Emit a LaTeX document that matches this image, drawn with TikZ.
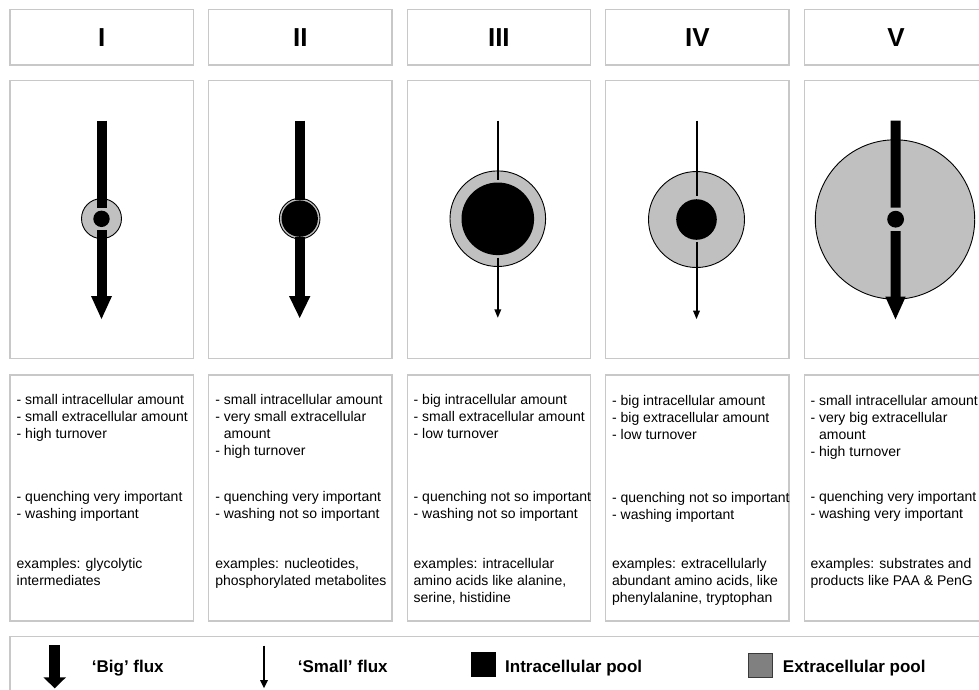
\documentclass[tikz,border=0pt]{standalone}
\usepackage{fontspec}
\setmainfont{Liberation Sans}
\definecolor{framegray}{HTML}{C8C8C8}
\definecolor{poolgray}{HTML}{C0C0C0}
\definecolor{keygray}{HTML}{808080}
\definecolor{keyedge}{HTML}{3A3A3A}
\tikzset{
  box/.style={draw=framegray, line width=1.3pt, minimum width=183.3pt, inner sep=0pt, outer sep=0pt, anchor=north west},
  numeral/.style={font=\fontsize{26}{30}\selectfont\bfseries},
  % multi-line notes are placed by the baseline of their last line
  note/.style={font=\fontsize{14}{17}\selectfont, align=left, anchor=base west, inner sep=0pt},
  keytext/.style={font=\fontsize{17}{20}\selectfont\bfseries, anchor=base west, inner sep=0pt},
  extrapool/.style={circle, fill=poolgray, draw=black, line width=0.9pt, inner sep=0pt},
  intrapool/.style={circle, fill=black, inner sep=0pt},
  bigflux/.style={line width=10pt, draw=black},
  smallflux/.style={line width=2pt, draw=black},
}
\begin{document}
\begin{tikzpicture}[x=1pt,y=-1pt]
\useasboundingbox (0,0) rectangle (979,689);
\clip (0,0) rectangle (979,689);

% ---- header boxes with the case numerals
\node[box, numeral, minimum height=55.7pt] (hdrI)   at (10,9.3)    {I};
\node[box, numeral, minimum height=55.7pt] (hdrII)  at (208.6,9.3) {II};
\node[box, numeral, minimum height=55.7pt] (hdrIII) at (407.2,9.3) {III};
\node[box, numeral, minimum height=55.7pt] (hdrIV)  at (605.8,9.3) {IV};
\node[box, numeral, minimum height=55.7pt] (hdrV)   at (804.4,9.3) {V};

% ---- picture boxes
\node[box, minimum height=278pt] (picI)   at (10,80.7)    {};
\node[box, minimum height=278pt] (picII)  at (208.6,80.7) {};
\node[box, minimum height=278pt] (picIII) at (407.2,80.7) {};
\node[box, minimum height=278pt] (picIV)  at (605.8,80.7) {};
\node[box, minimum height=278pt] (picV)   at (804.4,80.7) {};

% ---- text boxes
\node[box, minimum height=246pt] (txtI)   at (10,375)    {};
\node[box, minimum height=246pt] (txtII)  at (208.6,375) {};
\node[box, minimum height=246pt] (txtIII) at (407.2,375) {};
\node[box, minimum height=246pt] (txtIV)  at (605.8,375) {};
\node[box, minimum height=246pt] (txtV)   at (804.4,375) {};

% ---- legend box
\node[box, minimum width=1000pt, minimum height=100pt] (legend) at (10,636.7) {};

% ---- case I: small pools, big flux
\coordinate (topI) at (101.5,120.7);
\coordinate (tipI) at (101.5,319);
\coordinate (baseI) at (101.5,297);
\node[extrapool, minimum size=40pt] (eI) at (101.5,218.6) {};
\node[intrapool, minimum size=16.4pt] (iI) at (101.5,218.8) {};
\draw[bigflux] (topI) -- ([yshift=2.5pt]iI.north);
\draw[bigflux] ([yshift=-3pt]iI.south) -- (baseI);
\fill (tipI) -- ++(-10.5,-23) -- ++(21,0) -- cycle;

% ---- case II: intracellular pool filling a thin extracellular ring
\coordinate (topII) at (299.7,120.7);
\coordinate (tipII) at (299.7,318);
\coordinate (baseII) at (299.7,298);
\node[extrapool, minimum size=40.6pt] (eII) at (299.7,218.6) {};
\node[intrapool, minimum size=36.4pt] (iII) at (299.7,218.6) {};
\draw[bigflux] (topII) -- (iII.north);
\draw[bigflux] (iII.south) -- (baseII);
\fill (tipII) -- ++(-10.7,-22) -- ++(21.4,0) -- cycle;

% ---- case III: big intracellular pool, small flux
\coordinate (topIII) at (497.8,120.7);
\coordinate (tipIII) at (497.8,317.7);
\coordinate (baseIII) at (497.8,310);
\node[extrapool, minimum size=95.6pt] (eIII) at (497.8,218.7) {};
\node[intrapool, minimum size=72.6pt] (iIII) at (497.8,218.8) {};
\draw[smallflux] (topIII) -- ([yshift=2.7pt]iIII.north);
\draw[smallflux] ([yshift=-2.3pt]iIII.south) -- (baseIII);
\fill (tipIII) -- ++(-3.5,-8.3) -- ++(7,0) -- cycle;

% ---- case IV: both pools big, small flux
\coordinate (topIV) at (696.5,120.7);
\coordinate (tipIV) at (696.5,319);
\coordinate (baseIV) at (696.5,311);
\node[extrapool, minimum size=96pt] (eIV) at (696.5,219.5) {};
\node[intrapool, minimum size=40.6pt] (iIV) at (696.5,219.5) {};
\draw[smallflux] (topIV) -- ([yshift=2.9pt]iIV.north);
\draw[smallflux] ([yshift=-1.9pt]iIV.south) -- (baseIV);
\fill (tipIV) -- ++(-3.5,-8.3) -- ++(7,0) -- cycle;

% ---- case V: very big extracellular pool, big flux
\coordinate (topV) at (895.5,120.7);
\coordinate (tipV) at (895.5,319.3);
\coordinate (baseV) at (895.5,297.5);
\node[extrapool, minimum size=159.4pt] (eV) at (895,219.5) {};
\node[intrapool, minimum size=16.8pt] (iV) at (895.6,219.2) {};
\draw[bigflux] (topV) -- ([yshift=3pt]iV.north);
\draw[bigflux] ([yshift=-3.4pt]iV.south) -- (baseV);
\fill (tipV) -- ++(-10.2,-22.6) -- ++(20.4,0) -- cycle;

% ---- descriptions (y = baseline of the last line)
\node[note] (aI) at (16.5,438.3) {- small intracellular amount\\- small extracellular amount\\- high turnover};
\node[note] (bI) at (16.5,518.3) {- quenching very important\\- washing important};
\node[note] (cI) at (16.5,585.9) {examples: glycolytic\\intermediates};

\node[note] (aII) at (215.1,455.3) {- small intracellular amount\\- very small extracellular\\\phantom{- }amount\\- high turnover};
\node[note] (bII) at (215.1,518.3) {- quenching very important\\- washing not so important};
\node[note] (cII) at (215.1,585.9) {examples: nucleotides,\\phosphorylated metabolites};

\node[note] (aIII) at (413.5,438.3) {- big intracellular amount\\- small extracellular amount\\- low turnover};
\node[note] (bIII) at (413.5,518.3) {- quenching not so important\\- washing not so important};
\node[note] (cIII) at (413.5,602.9) {examples: intracellular\\amino acids like alanine,\\serine, histidine};

\node[note] (aIV) at (611.9,439) {- big intracellular amount\\- big extracellular amount\\- low turnover};
\node[note] (bIV) at (611.9,519) {- quenching not so important\\- washing important};
\node[note] (cIV) at (611.9,602.5) {examples: extracellularly\\abundant amino acids, like\\phenylalanine, tryptophan};

\node[note] (aV) at (810.3,456) {- small intracellular amount\\- very big extracellular\\\phantom{- }amount\\- high turnover};
\node[note] (bV) at (810.3,518.3) {- quenching very important\\- washing very important};
\node[note] (cV) at (810.3,585.5) {examples: substrates and\\products like PAA \& PenG};

% ---- legend
\coordinate (keyBigTop) at (54.7,645);
\coordinate (keyBigTip) at (54.7,688.3);
\coordinate (keyBigBase) at (54.7,677.8);
\draw[line width=10.7pt] (keyBigTop) -- (keyBigBase);
\fill (keyBigTip) -- ++(-11.3,-11) -- ++(22.6,0) -- cycle;
\node[keytext] (keyBig) at (91.7,672.7) {‘Big’ flux};

\coordinate (keySmallTop) at (264,645.7);
\coordinate (keySmallTip) at (264,688);
\coordinate (keySmallBase) at (264,680.5);
\draw[line width=1.3pt] (keySmallTop) -- (keySmallBase);
\fill (keySmallTip) -- ++(-4,-8) -- ++(8,0) -- cycle;
\node[keytext] (keySmall) at (297.7,672.7) {‘Small’ flux};

\node[fill=black, minimum size=25pt, inner sep=0pt] (keyIntraBox) at (483.1,664.8) {};
\node[keytext] (keyIntra) at (505,672) {Intracellular pool};

\node[fill=keygray, draw=keyedge, line width=1pt, minimum size=24pt, inner sep=0pt] (keyExtraBox) at (760.8,665.8) {};
\node[keytext] (keyExtra) at (782.7,672) {Extracellular pool};
\end{tikzpicture}
\end{document}
